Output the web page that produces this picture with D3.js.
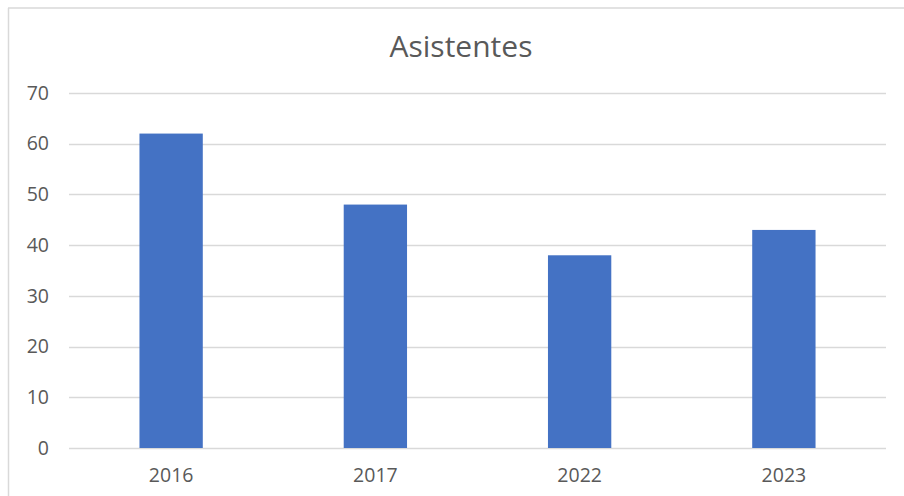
<!DOCTYPE html>
<html><head><meta charset="utf-8">
<script src="https://cdn.jsdelivr.net/npm/d3@7"></script>
<style>body{margin:0;background:#fff}svg{display:block}</style>
</head><body>
<svg id="c" width="904" height="496"></svg>
<script>
const categories = ["2016","2017","2022","2023"];
const values = [62,48,38,43];
const yTicks = [0,10,20,30,40,50,60,70];
const title = "Asistentes";

const svg = d3.select("#c");
const font = "'Open Sans', 'Noto Sans', sans-serif";
const txt = "#595959";
// chart area border
svg.append("line").attr("x1",8.5).attr("x2",8.5).attr("y1",8).attr("y2",496).attr("stroke","#d9d9d9").attr("stroke-width",1.5);
svg.append("line").attr("x1",8).attr("x2",904).attr("y1",8).attr("y2",8).attr("stroke","#d9d9d9").attr("stroke-width",1.5);

const x = d3.scaleBand().domain(categories).range([69,886]).paddingInner(0.69).paddingOuter(0.345);
const y = d3.scaleLinear().domain([0,70]).range([448,93]);

const g = svg.append("g");
g.selectAll(".grid").data(yTicks).join("line")
  .attr("x1",69).attr("x2",886)
  .attr("y1",d=>Math.round(y(d))+0.5).attr("y2",d=>Math.round(y(d))+0.5)
  .attr("stroke","#d9d9d9").attr("stroke-width",1.3);

g.selectAll(".bar").data(values).join("rect")
  .attr("x",(d,i)=>x(categories[i])).attr("width",x.bandwidth())
  .attr("y",d=>y(d)).attr("height",d=>y(0)-y(d))
  .attr("fill","#4472C4");

const yAxis = d3.axisLeft(y).tickValues(yTicks).tickSize(0).tickPadding(0);
const ya = svg.append("g").attr("transform","translate(49,0)").call(yAxis);
ya.select(".domain").remove();
ya.selectAll("text").attr("fill",txt).attr("font-size",19.5).attr("font-family",font);

const xAxis = d3.axisBottom(x).tickSize(0).tickPadding(0);
const xa = svg.append("g").attr("transform","translate(0,0)").call(xAxis);
xa.select(".domain").remove();
xa.selectAll("text").attr("fill",txt).attr("font-size",19.5).attr("font-family",font).attr("y",482).attr("dy",null);

svg.append("text").attr("x",461).attr("y",57).attr("text-anchor","middle")
  .attr("fill",txt).attr("font-size",30).attr("font-family",font).text(title);
</script>
</body></html>
